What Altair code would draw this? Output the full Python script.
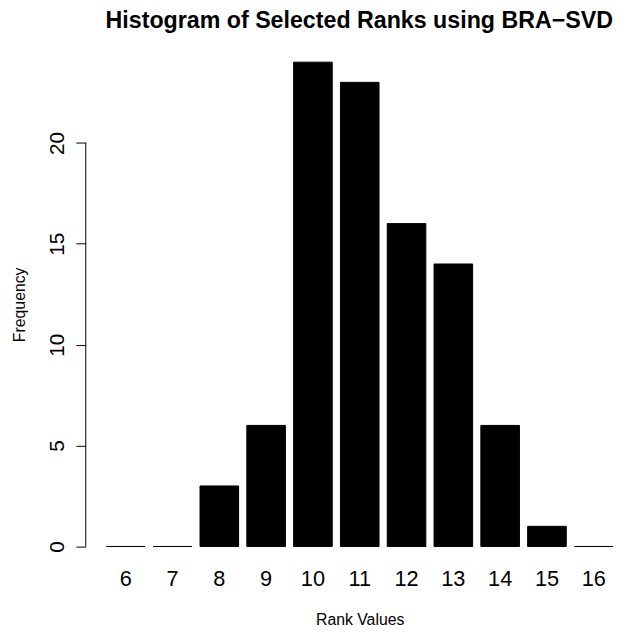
import altair as alt
import pandas as pd

ranks = ["6", "7", "8", "9", "10", "11", "12", "13", "14", "15", "16"]
freq = [0, 0, 3, 6, 24, 23, 16, 14, 6, 1, 0]
y_ticks = [0, 5, 10, 15, 20]

df = pd.DataFrame({"rank": ranks, "freq": freq})

FONT = "Liberation Sans"
W = 533.8
H = 529.5

x_scale = alt.Scale(domain=ranks, paddingInner=0.175, paddingOuter=0.2206, align=1)
y_scale = alt.Scale(domain=[-0.96, 24.96], nice=False, zero=False)

bars = alt.Chart(df).mark_bar(color="black", stroke="black", strokeWidth=1).encode(
    x=alt.X("rank:N", scale=x_scale, sort=ranks,
            axis=alt.Axis(title="Rank Values", labelAngle=0, domain=False, ticks=False,
                          tickSize=0, labelFont=FONT, labelFontSize=22, labelColor="black",
                          labelBaseline="alphabetic", labelPadding=19.5,
                          titleFont=FONT, titleFontSize=16, titleFontWeight="normal",
                          titleColor="black", titleX=277.3, titleY=59.5,
                          titleBaseline="alphabetic", titleAlign="center")),
    y=alt.Y("freq:Q", scale=y_scale,
            axis=alt.Axis(title="Frequency", values=y_ticks, domain=False, grid=False,
                          tickSize=10, tickColor="black", tickWidth=1,
                          labelAngle=270, labelAlign="center", labelBaseline="alphabetic",
                          labelPadding=13, labelFont=FONT, labelFontSize=21,
                          labelColor="black",
                          titleFont=FONT, titleFontSize=16, titleFontWeight="normal",
                          titleColor="black", titleX=-61.7, titleY=H / 2,
                          titleBaseline="alphabetic", titleAlign="center")),
)

axis_line = alt.Chart(pd.DataFrame({"lo": [y_ticks[0]], "hi": [y_ticks[-1]]})).mark_rule(
    color="black", strokeWidth=1
).encode(
    x=alt.value(0),
    y=alt.Y("lo:Q", scale=y_scale),
    y2="hi:Q",
)

chart = alt.layer(bars, axis_line).properties(
    width=W,
    height=H,
    title=alt.TitleParams("Histogram of Selected Ranks using BRA\u2212SVD", font=FONT,
                          fontSize=23.5, fontWeight="bold", color="black",
                          anchor="middle", dx=10, dy=18.5, offset=10.4,
                          baseline="alphabetic", frame="group"),
    autosize=alt.AutoSizeParams(type="none"),
    padding={"left": 78.7, "top": 31.4, "right": 6, "bottom": 62},
).configure_view(stroke=None)

chart.save("out.html", embed_options={"renderer": "svg", "actions": False})
